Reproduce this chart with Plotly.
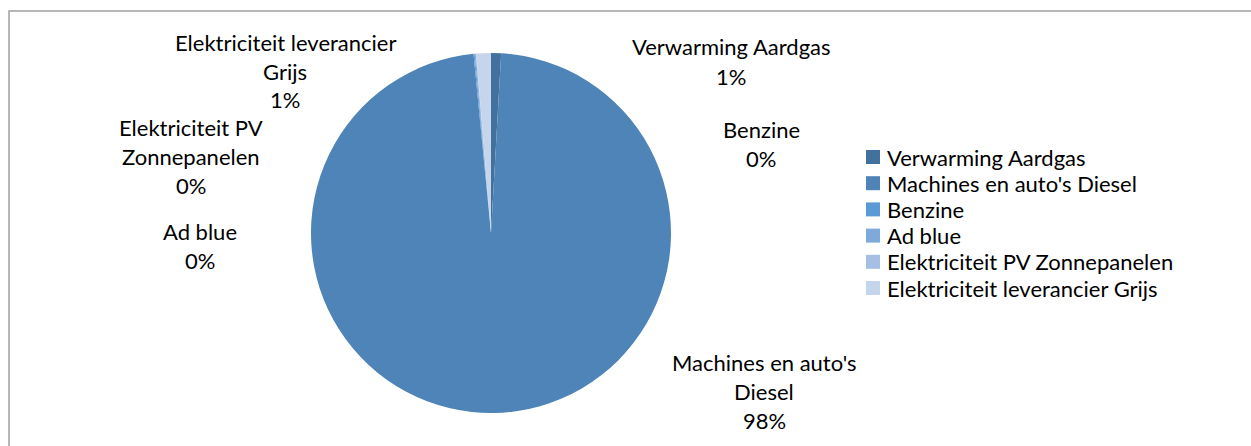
import plotly.graph_objects as go

labels = ["Verwarming Aardgas", "Machines en auto's Diesel", "Benzine", "Ad blue",
          "Elektriciteit PV Zonnepanelen", "Elektriciteit leverancier Grijs"]
values = [0.9, 97.6, 0.1, 0.1, 0.05, 1.3]
colors = ["#41719C", "#4E84B7", "#5B9BD5", "#7DAADB", "#A5C0E4", "#C5D6EC"]
# label lines as displayed in the chart
label_lines = [["Verwarming Aardgas"], ["Machines en auto's", "Diesel"], ["Benzine"], ["Ad blue"],
               ["Elektriciteit PV", "Zonnepanelen"], ["Elektriciteit leverancier", "Grijs"]]

W, H = 1251, 446
FONT = "Lato"
FS = 22

fig = go.Figure(go.Pie(
    labels=labels, values=values, sort=False, direction="clockwise", rotation=0,
    marker=dict(colors=colors, line=dict(width=0)),
    textinfo="none", hoverinfo="label+percent", showlegend=False,
    domain=dict(x=[311 / W, 671 / W], y=[1 - 413 / H, 1 - 53 / H]),
))

# label anchor centers (px) for first line
anchors = [(731, 47), (764, 362), (761, 129), (200, 231), (191, 127), (285, 42)]
total = sum(values)
ann = []
for lines, v, (cx, cy) in zip(label_lines, values, anchors):
    texts = lines + [f"{round(v / total * 100)}%"]
    for i, t in enumerate(texts):
        ann.append(dict(text=t, x=cx / W, y=1 - (cy + i * 29) / H, xref="paper", yref="paper",
                        showarrow=False, xanchor="center", yanchor="middle",
                        font=dict(family=FONT, size=FS, color="#000000")))

# legend built from labels/colors
shapes = [dict(type="rect", xref="paper", yref="paper", x0=9 / W, x1=1.05, y0=-0.05, y1=1 - 11 / H,
               line=dict(color="#A0A0A0", width=1.5))]
for i, (lab, col) in enumerate(zip(labels, colors)):
    yc = 157 + i * 26.2
    shapes.append(dict(type="rect", xref="paper", yref="paper", x0=866 / W, x1=880 / W,
                       y0=1 - (yc + 7) / H, y1=1 - (yc - 7) / H, fillcolor=col, line=dict(width=0)))
    ann.append(dict(text=lab, x=885 / W, y=1 - yc / H, xref="paper", yref="paper", showarrow=False,
                    xanchor="left", yanchor="middle", font=dict(family=FONT, size=FS, color="#000000")))

fig.update_layout(
    width=W, height=H, margin=dict(l=0, r=0, t=0, b=0),
    paper_bgcolor="white", plot_bgcolor="white",
    annotations=ann, shapes=shapes, showlegend=False,
)
fig.write_html("out.html", config={"displayModeBar": False},
               post_script="document.body.style.margin='0';")
